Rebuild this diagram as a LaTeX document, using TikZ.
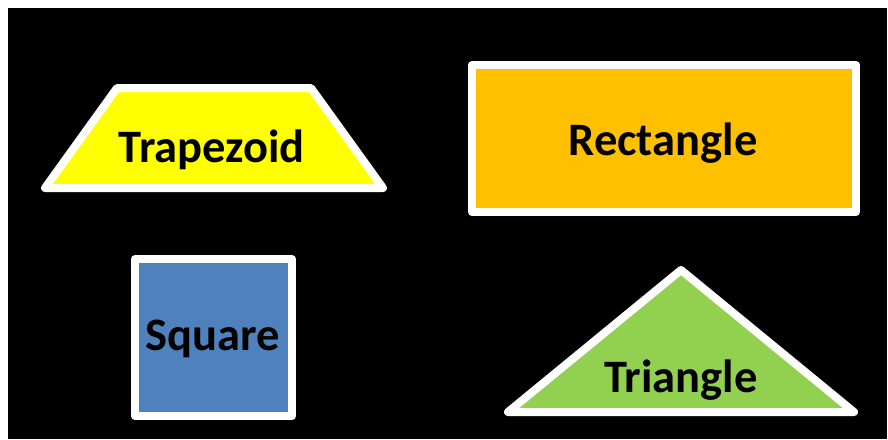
\documentclass[tikz,border=0pt]{standalone}
\usepackage{fontspec}
\setmainfont{Carlito}
\definecolor{trapfill}{HTML}{FFFF00}
\definecolor{rectfill}{HTML}{FFC000}
\definecolor{sqfill}{HTML}{4F81BD}
\definecolor{trifill}{HTML}{92D050}
\tikzset{
  shapeline/.style={draw=white, line width=8pt, line join=round},
  lbl/.style={anchor=base, text=black, inner sep=0pt, font=\fontsize{46.5}{55}\selectfont\bfseries},
}
\begin{document}
\begin{tikzpicture}[x=1pt, y=-1pt]
  \fill[white] (0,0) rectangle (888,439);
  \fill[black] (8,8) rectangle (887,439);
  \useasboundingbox (0,0) rectangle (888,439);
  % trapezoid
  \path[shapeline, fill=trapfill] (45,188) -- (117,88) -- (311,88) -- (383,188) -- cycle;
  \node[lbl] (trap) at (211.5,162) {Trapezoid};
  % rectangle
  \path[shapeline, fill=rectfill] (472,65) rectangle (856,212);
  \node[lbl] (rect) at (663,155) {Rectangle};
  % square
  \path[shapeline, fill=sqfill] (135,259) rectangle (292,416);
  \node[lbl] (sq) at (212.5,350) {Square};
  % triangle
  \path[shapeline, fill=trifill] (508,412) -- (681,270) -- (854,412) -- cycle;
  \node[lbl] (tri) at (681,392) {Triangle};
\end{tikzpicture}
\end{document}
